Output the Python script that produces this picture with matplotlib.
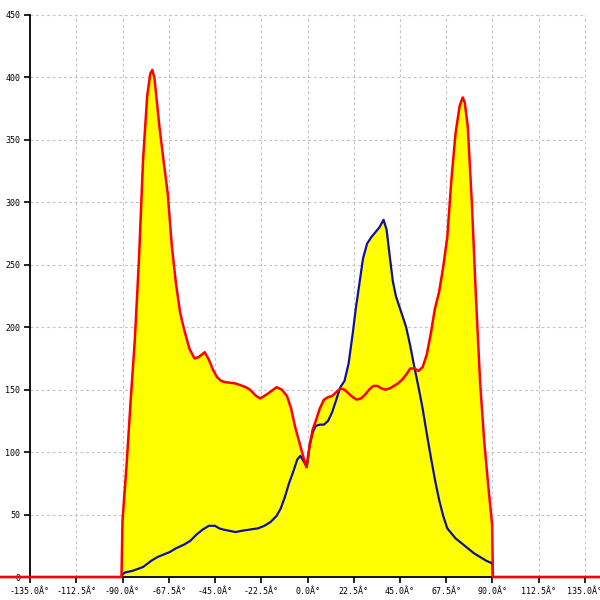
import matplotlib
matplotlib.use("Agg")
import matplotlib.pyplot as plt

# ---- data ----
red_angles = [-180, -90.5, -90, -88, -86, -84, -82, -80, -78, -76.5, -75.5, -74.5, -72, -70, -68, -66, -64,
              -62, -60, -57.5, -55, -53, -50, -48, -46, -44, -42, -40, -35, -30, -28, -25, -23, -20,
              -17.5, -15, -12.5, -10, -8, -6, -4, -2, -0.5, 1, 2.5, 4, 6, 8, 10, 12, 14, 16, 18, 20,
              22, 24, 26, 28, 30, 32, 34, 36, 38, 40, 42, 44, 46, 48, 50, 52, 54, 56, 58, 60, 62,
              64, 66, 68, 70, 72, 74, 75.5, 76.5, 78, 80, 82, 84, 86, 88, 89.8, 90.2, 180]
red_values = [0, 0, 45, 90, 142, 190, 254, 334, 385, 403, 406, 400, 360, 333, 307, 265, 235,
              212, 198, 183, 175, 176, 180, 174, 166, 160, 157, 156, 155, 152, 150, 145, 143, 146,
              149, 152, 150, 145, 135, 120, 108, 96, 88, 105, 118, 125, 135, 142, 144, 145, 148, 151, 150, 147,
              144, 142, 143, 146, 150, 153, 153, 151, 150, 151, 153, 155, 158, 162, 167, 167, 165, 168, 178, 195, 215,
              228, 248, 272, 318, 355, 377, 384, 380, 360, 298, 222, 155, 108, 72, 42, 0, 0]

blue_angles = [-180, -90.5, -90, -89, -85, -80, -76, -73, -70, -67, -64, -60, -57, -54, -51, -48, -45,
               -43, -41, -38, -35, -32, -28, -24, -21, -18, -15, -13, -11, -9, -7, -5, -3.5, -2,
               -0.3, 1, 2.6, 4, 6, 8, 10, 12, 14, 16, 18, 20, 22, 23.5, 25, 27, 29, 31, 33, 35,
               37, 38.5, 40, 41.5, 43, 45, 48, 50, 52, 54, 56, 58, 60, 62, 64, 66, 68, 70, 72, 75,
               78, 81, 84, 87, 89.8, 90.2, 180]
blue_values = [0, 0, 2, 3.5, 5, 8, 13, 16, 18, 20, 23, 26, 29, 34, 38, 41, 41,
               39, 38, 37, 36, 37, 38, 39, 41, 44, 49, 55, 64, 75, 84, 94, 97, 93,
               88, 105, 116, 121, 122, 122, 125, 132, 142, 152, 157, 171, 195, 215, 232, 255, 267, 272, 276, 280,
               286, 278, 257, 237, 225, 215, 200, 185, 168, 152, 135, 115, 96, 78, 62, 49, 39, 35, 31, 27,
               23, 19, 16, 13, 11, 0, 0]

x_ticks = [-135.0, -112.5, -90.0, -67.5, -45.0, -22.5, 0.0, 22.5, 45.0, 67.5, 90.0, 112.5, 135.0]
x_tick_labels = [f"{v:.1f}Â°" for v in x_ticks]
y_ticks = [0, 50, 100, 150, 200, 250, 300, 350, 400, 450]
y_tick_labels = [str(v) for v in y_ticks]

# ---- figure ----
fig = plt.figure(figsize=(6, 6), dpi=100)
ax = fig.add_axes([0, 0, 1, 1])
ax.set_xlim(-149.6, 142.3)
ax.set_ylim(-18.4, 462.0)

# grid (limited to tick range)
ax.vlines(x_ticks[1:], y_ticks[0], y_ticks[-1], colors="#c4c4c4", linestyles=(0, (2.5, 2.5)), linewidth=0.8, zorder=1)
ax.hlines(y_ticks[1:], x_ticks[0], x_ticks[-1], colors="#c4c4c4", linestyles=(0, (2.5, 2.5)), linewidth=0.8, zorder=1)

ax.fill_between(blue_angles, 0, blue_values, color="#ffff00", linewidth=0, zorder=2)
ax.fill_between(red_angles, 0, red_values, color="#ffff00", linewidth=0, zorder=2)
ax.plot(blue_angles, blue_values, color="#1010a0", linewidth=1.6, zorder=4)
ax.plot(red_angles, red_values, color="#ff0000", linewidth=1.8, zorder=5)

for s in ["top", "right"]:
    ax.spines[s].set_visible(False)
ax.spines["left"].set_position(("data", -135))
ax.spines["bottom"].set_position(("data", 0))
ax.spines["left"].set_bounds(0, 450)
ax.spines["bottom"].set_bounds(-135, 135)
ax.spines["left"].set_linewidth(1.3)
ax.spines["bottom"].set_linewidth(1.3)
ax.spines["left"].set_zorder(3)
ax.spines["bottom"].set_zorder(3)

ax.set_xticks(x_ticks)
ax.set_xticklabels(x_tick_labels, fontfamily="DejaVu Sans Mono", fontsize=6)
ax.set_yticks(y_ticks)
ax.set_yticklabels(y_tick_labels, fontfamily="DejaVu Sans Mono", fontsize=6)
ax.tick_params(axis="x", direction="out", length=4, width=1.2, pad=3)
ax.tick_params(axis="y", direction="out", length=4, width=1.2, pad=3)

fig.savefig("out.png", dpi=100)
